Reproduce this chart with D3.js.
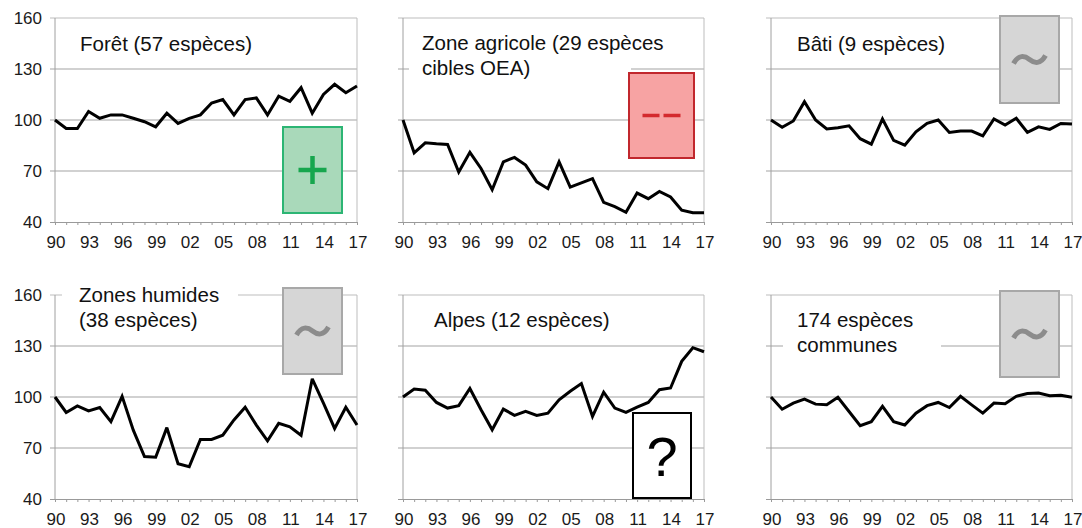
<!DOCTYPE html>
<html>
<head>
<meta charset="utf-8">
<script src="https://cdn.jsdelivr.net/npm/d3@7"></script>
<style>
  html, body { margin: 0; padding: 0; background: #fff; }
  svg { display: block; font-family: "Liberation Sans", Arial, sans-serif; }
</style>
</head>
<body>
<svg id="chart" width="1082" height="528"></svg>
<script>
// ---------- DATA ----------
const years = [1990,1991,1992,1993,1994,1995,1996,1997,1998,1999,2000,2001,2002,2003,
               2004,2005,2006,2007,2008,2009,2010,2011,2012,2013,2014,2015,2016,2017];
const xTickYears = [1990,1993,1996,1999,2002,2005,2008,2011,2014,2017];
const xTickLabels = ["90","93","96","99","02","05","08","11","14","17"];
const yTicks = [40,70,100,130,160];

const foret    = [100,95,95,105,101,103,103,101,99,96,104,98,101,103,110,112,103,112,113,103,114,111,119,104,115,121,116,120];
const agricole = [100,80.7,86.6,86,85.6,69.4,81,71.5,59,75.4,78,73.5,63.6,59.6,75.4,60.5,63,65.5,51.6,49,45.7,57,53.7,58,54.7,47,45.4,45.4];
const bati     = [100,95.7,99.4,110.8,100,94.7,95.5,96.6,89,85.8,100.6,88,85.2,93,98,100,92.7,93.5,93.5,90.7,100.6,97,101,92.7,96,94.5,98,97.6];
const humides  = [100,90.9,94.8,91.8,93.8,85.5,100.4,80.5,65,64.6,82,60.7,59,75,75,77.5,86.5,94,83.5,74.2,84.5,82.5,77.5,110.7,96.4,81.5,94,83.5];
const alpes    = [100,104.7,104,96.8,93.5,94.9,105,92.5,80.7,92.9,89.2,91.5,89.2,90.5,98.4,103.4,107.9,88.6,102.8,93.5,90.9,94,96.8,104.3,105.3,121,129,126.6];
const communes = [100,92.8,96.4,98.8,95.8,95.4,99.8,91.5,83.1,85.5,94.5,85.5,83.5,90.5,94.9,96.8,93.8,100.4,95.4,90.5,96.4,96,100.4,102,102.4,100.8,101,99.8];

const titles = [
  ["Forêt (57 espèces)"],
  ["Zone agricole (29 espèces", "cibles OEA)"],
  ["Bâti (9 espèces)"],
  ["Zones humides", "(38 espèces)"],
  ["Alpes (12 espèces)"],
  ["174 espèces", "communes"]
];
const trends = ["+", "--", "~", "~", "?", "~"];
const seriesList = [foret, agricole, bati, humides, alpes, communes];

// ---------- LAYOUT ----------
const cols = [[55,357],[403,704],[771,1072]];
const rows = [[18,222],[295,499]];
const layout = [
  {c:0, r:0, tx:80,  ty:51,  bg:null,               badge:[283,127,59,86]},
  {c:1, r:0, tx:422, ty:50,  bg:[409,26,222,58],    badge:[629,73,65,85]},
  {c:2, r:0, tx:797, ty:51,  bg:null,               badge:[1000,16,59,87]},
  {c:0, r:1, tx:79,  ty:302, bg:[62,283,176,50],    badge:[283,288,59,86]},
  {c:1, r:1, tx:434, ty:327, bg:null,               badge:[633,413,58,85]},
  {c:2, r:1, tx:797, ty:327, bg:[783,306,158,52],   badge:[1000,291,59,86]}
];
const lineGap = 25;

const svg = d3.select("#chart");

layout.forEach((L, i) => {
  const [x0, x1] = cols[L.c];
  const [y0, y1] = rows[L.r];
  const x = d3.scaleLinear().domain([1990, 2017]).range([x0, x1]);
  const y = d3.scaleLinear().domain([40, 160]).range([y1, y0]);
  const g = svg.append("g");

  // gridlines (with small stub to the left)
  g.selectAll("line.grid").data(yTicks.filter(v => v > 40 && v < 160)).join("line")
    .attr("x1", x0 - 5).attr("x2", x1)
    .attr("y1", d => y(d)).attr("y2", d => y(d))
    .attr("stroke", "#a3a3a3").attr("stroke-width", 1);

  // border: top and right
  g.append("line").attr("x1", x0 - 5).attr("x2", x1).attr("y1", y(160)).attr("y2", y(160))
    .attr("stroke", "#bdbdbd").attr("stroke-width", 1);
  g.append("line").attr("x1", x1).attr("x2", x1).attr("y1", y(160)).attr("y2", y(40))
    .attr("stroke", "#bdbdbd").attr("stroke-width", 1);

  // left axis
  g.append("line").attr("x1", x0).attr("x2", x0).attr("y1", y(160)).attr("y2", y(40))
    .attr("stroke", "#a0a0a0").attr("stroke-width", 1);

  // bottom axis with yearly ticks
  const xAxis = d3.axisBottom(x).tickValues(years).tickSize(3).tickFormat("");
  const ax = g.append("g").attr("transform", `translate(0,${y(40)})`).call(xAxis);
  ax.select(".domain").attr("stroke", "#9a9a9a").attr("d", `M${x0 - 5},0.5H${x1}`);
  ax.selectAll(".tick line").attr("stroke", "#9a9a9a");

  // x tick labels
  g.selectAll("text.xl").data(xTickYears).join("text")
    .attr("x", d => x(d) + 1).attr("y", y(40) + 26)
    .attr("text-anchor", "middle").attr("font-size", 17).attr("fill", "#1a1a1a")
    .text((d, k) => xTickLabels[k]);

  // y labels on first column
  if (L.c === 0) {
    g.selectAll("text.yl").data(yTicks).join("text")
      .attr("x", x0 - 13).attr("y", d => y(d) + 6)
      .attr("text-anchor", "end").attr("font-size", 17).attr("fill", "#1a1a1a")
      .text(d => d);
  }

  // title background
  if (L.bg) {
    g.append("rect").attr("x", L.bg[0]).attr("y", L.bg[1]).attr("width", L.bg[2]).attr("height", L.bg[3])
      .attr("fill", "#fff");
  }
  // title
  const t = g.append("text").attr("font-size", 20.5).attr("fill", "#111");
  titles[i].forEach((s, k) => {
    t.append("tspan").attr("x", L.tx).attr("y", L.ty + k * lineGap).text(s);
  });

  // data line
  const line = d3.line().x((d, k) => x(years[k])).y(d => y(d));
  g.append("path").datum(seriesList[i]).attr("d", line)
    .attr("fill", "none").attr("stroke", "#000").attr("stroke-width", 3)
    .attr("stroke-linejoin", "miter").attr("stroke-miterlimit", 3);

  // trend badge
  const [bx, by, bw, bh] = L.badge;
  const cx = bx + bw / 2, cy = by + bh / 2;
  const tr = trends[i];
  let fill = "#d6d6d6", stroke = "#a8a8a8";
  if (tr === "+") { fill = "#a9d9ba"; stroke = "#2cb574"; }
  if (tr === "--") { fill = "#f7a3a3"; stroke = "#c1272d"; }
  if (tr === "?") { fill = "#fff"; stroke = "#000"; }
  g.append("rect").attr("x", bx).attr("y", by).attr("width", bw).attr("height", bh)
    .attr("fill", fill).attr("stroke", stroke).attr("stroke-width", 2);

  if (tr === "+") {
    g.append("path").attr("d", `M${cx - 14},${cy}H${cx + 14}M${cx},${cy - 14}V${cy + 14}`)
      .attr("stroke", "#17a64e").attr("stroke-width", 4.5).attr("fill", "none");
  } else if (tr === "--") {
    g.append("path").attr("d", `M${cx - 19},${cy}H${cx - 2}M${cx + 2},${cy}H${cx + 19}`)
      .attr("stroke", "#d42a2e").attr("stroke-width", 3.5).attr("fill", "none");
  } else if (tr === "~") {
    g.append("path")
      .attr("d", `M${cx - 16},${cy + 4} C${cx - 11},${cy - 5} ${cx - 5},${cy - 4} ${cx},${cy} C${cx + 5},${cy + 4} ${cx + 11},${cy + 5} ${cx + 16},${cy - 4}`)
      .attr("stroke", "#8c8c8c").attr("stroke-width", 5).attr("fill", "none");
  } else if (tr === "?") {
    g.append("text").attr("x", cx).attr("y", cy + 20).attr("text-anchor", "middle")
      .attr("font-size", 56).attr("fill", "#000").text("?");
  }
});
</script>
</body>
</html>
